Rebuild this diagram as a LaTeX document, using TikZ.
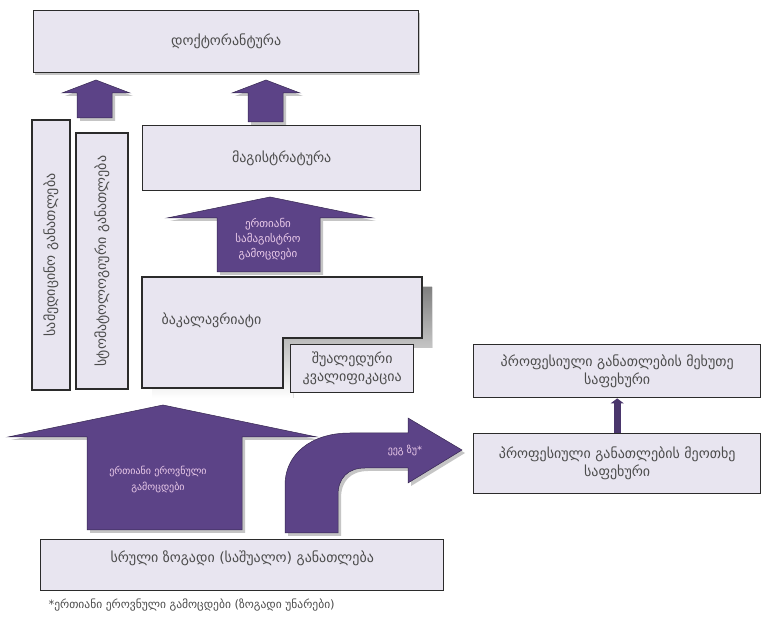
\documentclass[tikz,border=0pt]{standalone}
\usepackage{fontspec}
\setmainfont{DejaVu Sans}
\usetikzlibrary{arrows.meta,shadows}

\definecolor{boxfill}{HTML}{E8E5F0}
\definecolor{boxline}{HTML}{2B2B2B}
\definecolor{arrowfill}{HTML}{5C4387}
\definecolor{arrowtext}{HTML}{EBCBEA}
\definecolor{shade}{HTML}{8C8C8C}

\tikzset{
  box/.style={draw=boxline, line width=1.4pt, fill=boxfill, text=black!70, align=center,
    font=\fontsize{14}{18}\selectfont, inner sep=0pt, anchor=north west},
  blockarrow/.style={fill=arrowfill, draw=arrowfill!60!black, line width=0.5pt,
    drop shadow={shadow xshift=3pt, shadow yshift=-3pt, fill=shade}},
  arrowlabel/.style={text=arrowtext, align=center, font=\fontsize{10}{16}\selectfont},
}

\begin{document}
\begin{tikzpicture}[x=1pt,y=-1pt]
\useasboundingbox[fill=white] (0,0) rectangle (764,636);
% doctorate
\node[box, minimum width=385pt, minimum height=62pt,
  drop shadow={shadow xshift=1pt, shadow yshift=-2pt, fill=shade}] (doct) at (33,10) {დოქტორანტურა};
% medicine and dentistry
\node[box, anchor=center, rotate=90, minimum width=270pt, minimum height=38pt] (med) at (51,255) {სამედიცინო განათლება};
\node[box, anchor=center, rotate=90, minimum width=256pt, minimum height=52pt] (dent) at (102,261) {სტომატოლოგიური განათლება};
% masters
\node[box, minimum width=278pt, minimum height=65pt] (mast) at (142,125) {მაგისტრატურა};
% bachelor
\fill[shade, shift={(10,10)}] (142,277) -- (422,277) -- (422,338) -- (283,338) -- (283,388) -- (142,388) -- cycle;
\draw[boxline, line width=1.4pt, fill=boxfill] (142,277) -- (422,277) -- (422,338) -- (283,338) -- (283,388) -- (142,388) -- cycle;
\node[anchor=west, text=black!70, font=\fontsize{14}{18}\selectfont] (bach) at (158,320) {ბაკალავრიატი};
\node[box, minimum width=123pt, minimum height=48pt] (inter) at (290,344) {შუალედური\\კვალიფიკაცია};

% arrows to doctorate
\draw[blockarrow] (62,93) -- (96,80) -- (130,93) -- (112,93) -- (112,118) -- (77,118) -- (77,93) -- cycle;
\draw[blockarrow] (232,93) -- (266,80) -- (300,93) -- (283,93) -- (283,122) -- (248,122) -- (248,93) -- cycle;
% masters exams
\draw[blockarrow] (167,218) -- (270,197) -- (373,218) -- (320,218) -- (320,272) -- (217,272) -- (217,218) -- cycle;
\node[arrowlabel, font=\fontsize{11}{15}\selectfont] (mexam) at (268,239) {ერთიანი\\სამაგისტრო\\გამოცდები};
% national exams
\draw[blockarrow] (8,437) -- (163,405) -- (317,437) -- (242,437) -- (242,530) -- (87,530) -- (87,437) -- cycle;
\node[arrowlabel] (nexam) at (158,480) {ერთიანი ეროვნული\\გამოცდები};
% general skills
\draw[blockarrow] (285,533) -- (285,485) .. controls (285,455) and (310,433) .. (350,433) -- (408,433)
  -- (408,418) -- (462,450) -- (408,483) -- (408,468) -- (365,468) .. controls (348,468) and (338,478) .. (338,495)
  -- (338,533) -- cycle;
\node[arrowlabel] (gskill) at (405,450) {ეეგ ზუ*};

% vocational
\node[box, minimum width=287pt, minimum height=53pt] (prof5) at (473,344) {პროფესიული განათლების მეხუთე\\საფეხური};
\node[box, minimum width=287pt, minimum height=60pt] (prof4) at (473,433) {პროფესიული განათლების მეოთხე\\საფეხური};
\draw[arrowfill!80!black, line width=7pt, -{Triangle[width=13pt,length=5pt]}] (prof4.north) -- (prof5.south);

% general education
\node[box, minimum width=403pt, minimum height=51pt] (gen) at (40,539) {სრული ზოგადი (საშუალო) განათლება\\~};
\node[anchor=west, text=black!70, font=\fontsize{11.5}{13}\selectfont] (note) at (45,605) {*ერთიანი ეროვნული გამოცდები (ზოგადი უნარები)};
\end{tikzpicture}
\end{document}
